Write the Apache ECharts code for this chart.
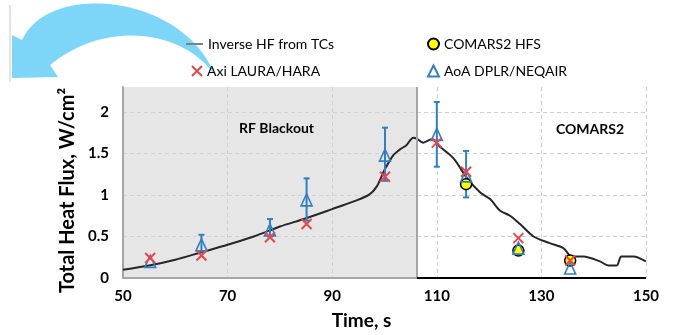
<!DOCTYPE html>
<html>
<head>
<meta charset="utf-8">
<script src="https://cdn.jsdelivr.net/npm/echarts@6/dist/echarts.min.js"></script>
<style>
  html, body { margin: 0; padding: 0; background: #fff; }
  #chart { width: 675px; height: 335px; }
</style>
</head>
<body>
<div id="chart"></div>
<script>
// inverse heat flux reconstructed from thermocouples
var inverseT = [50, 55, 60, 65, 70, 75, 78, 80, 85, 90, 94, 97, 98.5, 100, 101.7, 103, 104.2, 105.5, 106.1, 107.4, 109, 110.6, 113.2, 115.7, 118.3, 120.2, 122.1, 124, 125.9, 128.5, 131.6, 134.2, 135.8, 138, 141.2, 142.8, 144.4, 145.3, 147.6, 150];
var inverseQ = [0.10, 0.15, 0.22, 0.31, 0.40, 0.50, 0.57, 0.62, 0.72, 0.83, 0.92, 1.00, 1.10, 1.30, 1.48, 1.55, 1.60, 1.69, 1.68, 1.63, 1.67, 1.58, 1.44, 1.21, 1.03, 0.95, 0.81, 0.75, 0.65, 0.50, 0.42, 0.36, 0.26, 0.26, 0.20, 0.15, 0.15, 0.26, 0.26, 0.20];

// Axi LAURA/HARA
var axiT = [55.2, 65, 78.1, 85.1, 100.1, 110, 115.6, 125.6, 135.5];
var axiQ = [0.24, 0.27, 0.49, 0.65, 1.22, 1.63, 1.28, 0.48, 0.21];

// COMARS2 HFS
var hfsT = [115.6, 125.6, 135.5];
var hfsQ = [1.13, 0.33, 0.21];

// AoA DPLR/NEQAIR with uncertainty
var aoaT = [55.2, 65, 78.1, 85.1, 100.1, 110, 115.6, 125.6, 135.5];
var aoaQ = [0.20, 0.40, 0.58, 0.94, 1.48, 1.73, 1.23, 0.36, 0.12];
var aoaLo = [0.20, 0.32, 0.50, 0.69, 1.17, 1.34, 0.97, 0.36, 0.12];
var aoaHi = [0.20, 0.52, 0.71, 1.20, 1.81, 2.12, 1.53, 0.36, 0.12];

var blackoutEnd = 106.2;

function zip(a, b) {
	return a.map(function(v, i) { return [v, b[i]]; });
}

// sample a cubic bezier into polygon points (decorative arrow)
function bez(p0, p1, p2, p3, n) {
	var pts = [];
	for (var i = 0; i <= n; i++) {
		var t = i / n, u = 1 - t;
		pts.push([
			u*u*u*p0[0] + 3*u*u*t*p1[0] + 3*u*t*t*p2[0] + t*t*t*p3[0],
			u*u*u*p0[1] + 3*u*u*t*p1[1] + 3*u*t*t*p2[1] + t*t*t*p3[1]
		]);
	}
	return pts;
}
var arrowPts = bez([215, 76], [185, -5], [50, -20], [22, 40], 40)
	.concat([[12, 35], [12, 78], [58, 77]])
	.concat(bez([50, 65], [106, 19], [185, 30], [215, 76], 40));

var FONT = 'Lato';
var legendText = { fontFamily: FONT, fontSize: 14, color: '#000' };

var myChart = echarts.init(document.getElementById('chart'));

var option = {
	animation: false,
	grid: { left: 123, right: 29, top: 87, bottom: 53 },
	legend: [
		{ left: 186, top: 37, padding: 0, itemWidth: 17, itemHeight: 2, textStyle: legendText,
		  data: [{ name: 'Inverse HF from TCs', icon: 'rect' }] },
		{ left: 191, top: 64, padding: 0, itemWidth: 10, itemHeight: 10, textStyle: legendText, data: ['Axi LAURA/HARA'] },
		{ left: 427, top: 37, padding: 0, itemWidth: 11, itemHeight: 11, textStyle: legendText, data: ['COMARS2 HFS'] },
		{ left: 427, top: 64, padding: 0, itemWidth: 11, itemHeight: 11, textStyle: legendText, data: ['AoA DPLR/NEQAIR'] }
	],
	xAxis: {
		type: 'value',
		min: 50,
		max: 150,
		interval: 20,
		z: 3,
		name: 'Time, s',
		nameLocation: 'middle',
		nameGap: 33,
		nameTextStyle: { fontFamily: FONT, fontWeight: 'bold', fontSize: 19, color: '#000', padding: [0, 46, 0, 0] },
		axisLine: { show: false },
		axisTick: { show: false },
		axisLabel: { fontFamily: FONT, fontWeight: 'bold', fontSize: 15, color: '#000', margin: 11 },
		splitLine: { show: true, showMinLine: false, lineStyle: { color: '#d0d0d0', type: [4, 3] } }
	},
	yAxis: {
		type: 'value',
		min: 0,
		max: 2.3,
		interval: 0.5,
		z: 3,
		name: 'Total Heat Flux, W/cm²',
		nameLocation: 'middle',
		nameGap: 37,
		nameTextStyle: { fontFamily: FONT, fontWeight: 'bold', fontSize: 20, color: '#000', padding: [0, 16, 0, 0] },
		axisLine: { show: true, lineStyle: { color: '#a6a6a6', width: 2 } },
		axisTick: { show: false },
		axisLabel: { fontFamily: FONT, fontWeight: 'bold', fontSize: 15, color: '#000', margin: 14, showMaxLabel: false },
		splitLine: { show: true, showMinLine: false, showMaxLine: false, lineStyle: { color: '#d0d0d0', type: [4, 3] } }
	},
	graphic: [
		{
			type: 'line', z: 1,
			shape: { x1: 10, y1: 5, x2: 10, y2: 82 },
			style: { stroke: '#c8c8c8', lineWidth: 1 }
		},
		{
			type: 'polygon', z: 1,
			shape: { points: arrowPts },
			style: { fill: '#7dd6f7' }
		},
		{
			type: 'text', left: 239, top: 121, z: 10,
			style: { text: 'RF Blackout', font: 'bold 14px Lato', fill: '#000' }
		},
		{
			type: 'text', left: 556, top: 122, z: 10,
			style: { text: 'COMARS2', font: 'bold 14px Lato', fill: '#000' }
		}
	],
	series: [
		{
			name: 'Inverse HF from TCs',
			type: 'line',
			data: zip(inverseT, inverseQ),
			symbol: 'none',
			smooth: 0.3,
			z: 4,
			lineStyle: { color: '#262626', width: 2 },
			itemStyle: { color: '#808080' },
			markArea: {
				silent: true,
				itemStyle: { color: '#e6e6e6' },
				data: [[{ xAxis: 50, yAxis: 0 }, { xAxis: blackoutEnd, yAxis: 2.3 }]]
			},
			markLine: {
				silent: true,
				symbol: 'none',
				label: { show: false },
				data: [
					[{ coord: [blackoutEnd, 0], lineStyle: { color: '#a6a6a6', width: 2, type: 'solid' } },
					 { coord: [blackoutEnd, 2.3] }],
					[{ coord: [50, 0], lineStyle: { color: '#a6a6a6', width: 2, type: 'solid' } },
					 { coord: [blackoutEnd, 0] }],
					[{ coord: [blackoutEnd, 0], lineStyle: { color: '#000', width: 2, type: 'solid' } },
					 { coord: [150, 0] }]
				]
			}
		},
		{
			name: 'AoA bars',
			type: 'custom',
			z: 5,
			data: aoaT.map(function(t, i) { return [t, aoaLo[i], aoaHi[i]]; }),
			renderItem: function(params, api) {
				var lo = api.coord([api.value(0), api.value(1)]);
				var hi = api.coord([api.value(0), api.value(2)]);
				if (Math.abs(lo[1] - hi[1]) < 1) return;
				var c = 3;
				var st = { stroke: '#2f80c4', lineWidth: 2 };
				return {
					type: 'group',
					children: [
						{ type: 'line', shape: { x1: lo[0], y1: lo[1], x2: hi[0], y2: hi[1] }, style: st },
						{ type: 'line', shape: { x1: lo[0] - c, y1: lo[1], x2: lo[0] + c, y2: lo[1] }, style: st },
						{ type: 'line', shape: { x1: hi[0] - c, y1: hi[1], x2: hi[0] + c, y2: hi[1] }, style: st }
					]
				};
			}
		},
		{
			name: 'COMARS2 HFS',
			type: 'scatter',
			z: 6,
			data: zip(hfsT, hfsQ),
			symbol: 'circle',
			symbolSize: 11,
			itemStyle: { color: '#ffff00', borderColor: '#000', borderWidth: 1.5, opacity: 1 }
		},
		{
			name: 'AoA DPLR/NEQAIR',
			type: 'scatter',
			z: 7,
			data: zip(aoaT, aoaQ),
			symbol: 'triangle',
			symbolSize: [11, 12],
			itemStyle: { color: 'rgba(255,255,255,0)', borderColor: '#2f80c4', borderWidth: 1.6, opacity: 1 }
		},
		{
			name: 'Axi LAURA/HARA',
			type: 'scatter',
			z: 8,
			data: zip(axiT, axiQ),
			symbol: 'path://M0,0L10,10M10,0L0,10',
			symbolSize: 10,
			itemStyle: { color: 'rgba(0,0,0,0)', borderColor: '#e8474a', borderWidth: 2, opacity: 1 }
		}
	]
};

myChart.setOption(option);
</script>
</body>
</html>
